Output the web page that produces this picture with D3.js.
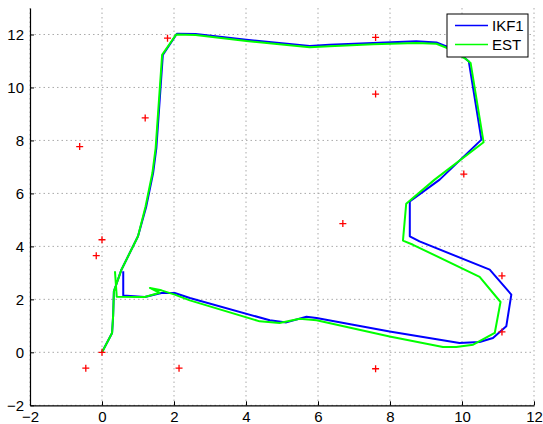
<!DOCTYPE html>
<meta charset="utf-8">
<style>
    body { margin: 0; background: white; }
    svg text { font-family: "Liberation Sans", Arial, sans-serif; }
</style>
<body>
<div id="chart"></div>
<script src="https://d3js.org/d3.v7.min.js"></script>
<script>
// IKF1 trajectory (blue)
var ikfX = [0, 0.28, 0.31, 0.33, 0.54, 1.0, 1.23, 1.42, 1.51, 1.69, 2.08, 2.6, 4.01, 5.77, 6.32, 7.53, 8.73, 9.29, 9.57, 10.03, 10.19, 10.54,
    9.38, 8.55, 8.55, 8.82, 10.77, 11.37, 11.23, 10.86, 10.49, 9.93, 7.99, 5.96, 5.68, 5.12, 4.66, 2.44, 2.02, 1.65, 1.19, 0.59, 0.59];
var ikfY = [0, 0.73, 1.4, 2.3, 3.12, 4.38, 5.51, 6.77, 7.71, 11.23, 12.03, 12.02, 11.8, 11.57, 11.61, 11.68, 11.74, 11.7, 11.55, 11.17, 10.98, 8.03,
    6.52, 5.7, 4.38, 4.19, 3.12, 2.18, 0.98, 0.54, 0.39, 0.35, 0.79, 1.3, 1.34, 1.13, 1.21, 2.05, 2.24, 2.24, 2.09, 2.15, 3.06];

// EST trajectory (green)
var estX = [0, 0.28, 0.31, 0.33, 0.54, 1.0, 1.21, 1.4, 1.49, 1.67, 2.06, 2.6, 4.01, 5.77, 6.32, 7.53, 8.73, 9.29, 9.57, 10.08, 10.24, 10.6,
    9.24, 8.45, 8.36, 8.64, 10.49, 11.07, 10.91, 10.31, 9.84, 9.47, 7.99, 5.96, 5.49, 4.93, 4.38, 2.44, 2.02, 1.65, 1.33, 1.6, 1.19, 0.41, 0.36];
var estY = [0, 0.73, 1.4, 2.3, 3.12, 4.38, 5.51, 6.77, 7.71, 11.23, 12.0, 11.98, 11.75, 11.52, 11.56, 11.63, 11.68, 11.65, 11.5, 11.1, 10.92, 7.93,
    6.52, 5.61, 4.22, 4.06, 2.85, 1.9, 0.73, 0.29, 0.2, 0.2, 0.6, 1.21, 1.27, 1.11, 1.17, 1.96, 2.18, 2.34, 2.43, 2.25, 2.09, 2.1, 3.06];

// landmarks (red +)
var lmX = [-0.62, 1.2, 1.82, 7.6, 7.6, 10.05, 6.69, 11.11, 11.11, 7.6, 2.14, -0.45, 0, -0.16, 0];
var lmY = [7.77, 8.85, 11.86, 11.89, 9.75, 6.73, 4.86, 2.89, 0.77, -0.62, -0.6, -0.6, 0, 3.65, 4.25];

var xTicks = [-2, 0, 2, 4, 6, 8, 10, 12];
var yTicks = [-2, 0, 2, 4, 6, 8, 10, 12];
var seriesNames = ["IKF1", "EST"];

var width = 543, height = 424;
var plotLeft = 30, plotRight = 534, plotTop = 8, plotBottom = 405.3;

var svg = d3.select("#chart").append("svg")
    .attr("width", width)
    .attr("height", height);

var x = d3.scaleLinear().domain([-2, 12]).range([plotLeft, plotRight]);
var y = d3.scaleLinear().domain([-2, 13]).range([plotBottom, plotTop]);

// dotted grid
var grid = svg.append("g").attr("stroke", "#aaa").attr("stroke-dasharray", "1.5,3").attr("stroke-width", 1);
xTicks.forEach(function(t) {
    grid.append("line").attr("x1", x(t)).attr("x2", x(t)).attr("y1", plotTop).attr("y2", plotBottom);
});
yTicks.forEach(function(t) {
    grid.append("line").attr("x1", plotLeft).attr("x2", plotRight).attr("y1", y(t)).attr("y2", y(t));
});

var fmt = function(d) { return d < 0 ? "\u2212" + Math.abs(d) : d; };

// axes, ticks inward
var xAxis = svg.append("g")
    .attr("transform", "translate(0," + plotBottom + ")")
    .call(d3.axisBottom(x).tickValues(xTicks).tickSizeInner(-4).tickSizeOuter(0).tickPadding(6).tickFormat(fmt));
var yAxis = svg.append("g")
    .attr("transform", "translate(" + plotLeft + ",0)")
    .call(d3.axisLeft(y).tickValues(yTicks).tickSizeInner(-4).tickSizeOuter(0).tickPadding(6).tickFormat(fmt));
[xAxis, yAxis].forEach(function(a) {
    a.selectAll("text").attr("font-size", 15).attr("fill", "#000").attr("font-family", "Liberation Sans, Arial, sans-serif");
    a.select(".domain").attr("stroke", "#000").attr("stroke-width", 1.2);
    a.selectAll(".tick line").attr("stroke", "#000");
});

// trajectories
var line = d3.line().x(function(d) { return x(d[0]); }).y(function(d) { return y(d[1]); });
var ikf = d3.zip(ikfX, ikfY);
var est = d3.zip(estX, estY);

svg.append("path").datum(ikf).attr("d", line)
    .attr("fill", "none").attr("stroke", "#0000ff").attr("stroke-width", 2).attr("stroke-linejoin", "round");
svg.append("path").datum(est).attr("d", line)
    .attr("fill", "none").attr("stroke", "#00ff00").attr("stroke-width", 2).attr("stroke-linejoin", "round");

// landmarks
svg.append("g").selectAll("path")
    .data(d3.zip(lmX, lmY))
    .enter().append("path")
    .attr("transform", function(d) { return "translate(" + x(d[0]) + "," + y(d[1]) + ")"; })
    .attr("d", "M-3.5,0H3.5M0,-3.5V3.5")
    .attr("stroke", "#ff0000").attr("stroke-width", 1.3).attr("fill", "none");

// legend
var lg = svg.append("g").attr("transform", "translate(447,14)");
lg.append("rect").attr("width", 81).attr("height", 43)
    .attr("fill", "white").attr("stroke", "#000").attr("stroke-width", 1);
var colors = ["#0000ff", "#00ff00"];
seriesNames.forEach(function(name, i) {
    var yy = 11.5 + i * 19;
    lg.append("line").attr("x1", 8).attr("x2", 41).attr("y1", yy).attr("y2", yy)
        .attr("stroke", colors[i]).attr("stroke-width", 1.5);
    lg.append("text").attr("x", 45).attr("y", yy + 5.5).attr("font-size", 15).text(name);
});
</script>
</body>
